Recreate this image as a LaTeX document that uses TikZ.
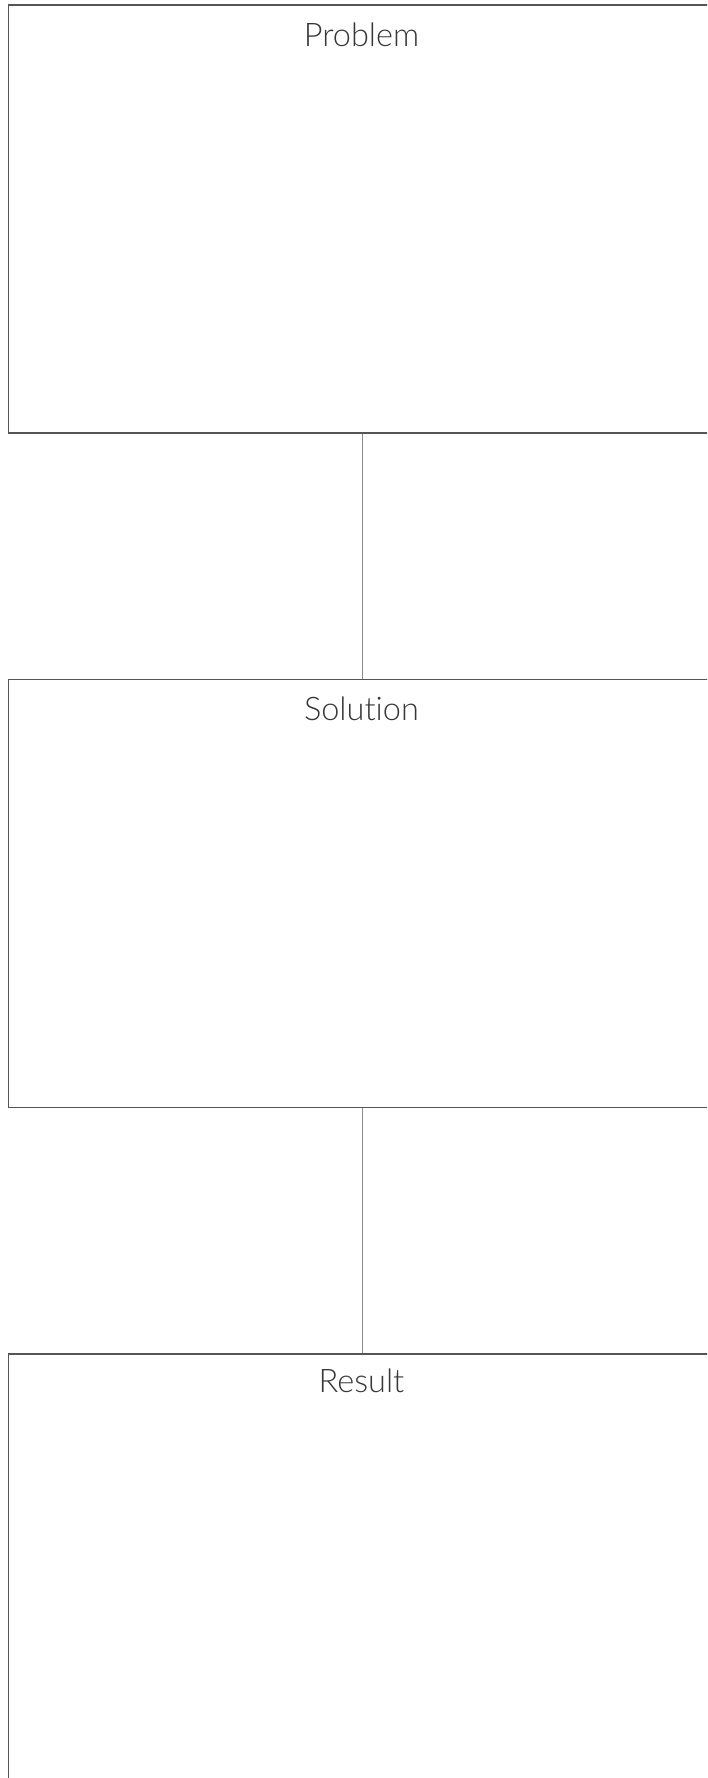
\documentclass[tikz,border=0pt]{standalone}
\usepackage{fontspec}
\setmainfont{Lato Light}[Ligatures={NoCommon,NoDiscretionary}]
\definecolor{boxline}{RGB}{85,85,85}
\definecolor{conline}{RGB}{140,140,140}
\definecolor{txt}{RGB}{55,55,55}
\begin{document}
\begin{tikzpicture}[x=1pt,y=-1pt,
  panel/.style={draw=boxline,line width=1.3pt,minimum width=708pt,minimum height=428pt,inner sep=0pt,fill=white},
  title/.style={anchor=base,text=txt,font=\fontsize{32.5}{36}\selectfont,inner sep=0pt},
  link/.style={draw=conline,line width=1.1pt}]
\useasboundingbox (0,0) rectangle (707,1778);
\clip (0,0) rectangle (707,1778);
\fill[white] (0,0) rectangle (707,1778);
\node[panel] (p) at (362.7,219) {};
\node[panel] (s) at (362.7,893.5) {};
\node[panel] (r) at (362.7,1568) {};
\node[title] (pt) at (361.5,46.5) {Problem};
\node[title] (st) at (361.5,720) {Solution};
\node[title] (rt) at (361.5,1392) {Result};
\draw[link] (p.south) -- (s.north);
\draw[link] (s.south) -- (r.north);
\end{tikzpicture}
\end{document}
